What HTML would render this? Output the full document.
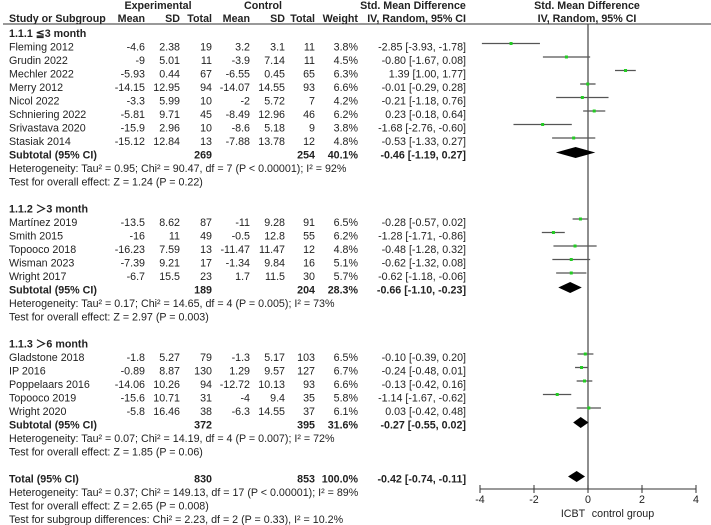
<!DOCTYPE html>
<html><head><meta charset="utf-8"><style>
html,body{margin:0;padding:0;background:#fff;width:711px;height:525px;overflow:hidden}
svg{display:block;font-family:"Liberation Sans",Arial,sans-serif;font-size:10.7px;fill:#222}
.b{font-weight:bold}
</style></head><body>
<svg id="fp" width="711" height="525" viewBox="0 0 711 525" xmlns="http://www.w3.org/2000/svg">
<g>
<text class="b" x="158" y="9" text-anchor="middle">Experimental</text>
<text class="b" x="263" y="9" text-anchor="middle">Control</text>
<text class="b" x="413" y="9" text-anchor="middle">Std. Mean Difference</text>
<text class="b" x="587" y="9" text-anchor="middle">Std. Mean Difference</text>
<text class="b" x="9" y="22">Study or Subgroup</text>
<text class="b" x="145" y="22" text-anchor="end">Mean</text>
<text class="b" x="180" y="22" text-anchor="end">SD</text>
<text class="b" x="212" y="22" text-anchor="end">Total</text>
<text class="b" x="250" y="22" text-anchor="end">Mean</text>
<text class="b" x="285" y="22" text-anchor="end">SD</text>
<text class="b" x="315" y="22" text-anchor="end">Total</text>
<text class="b" x="358" y="22" text-anchor="end">Weight</text>
<text class="b" x="466" y="22" text-anchor="end">IV, Random, 95% CI</text>
<text class="b" x="587" y="22" text-anchor="middle">IV, Random, 95% CI</text>
</g>
<line x1="3" y1="24" x2="711" y2="24" stroke="#333" stroke-width="1"/>
</svg>
<script>
const studies = ["Fleming 2012","Grudin 2022","Mechler 2022","Merry 2012","Nicol 2022","Schniering 2022","Srivastava 2020","Stasiak 2014",
"Martínez 2019","Smith 2015","Topooco 2018","Wisman 2023","Wright 2017",
"Gladstone 2018","IP 2016","Poppelaars 2016","Topooco 2019","Wright 2020"];
const studyRows = [1,2,3,4,5,6,7,8,14,15,16,17,18,24,25,26,27,28];
const expMean = ["-4.6","-9","-5.93","-14.15","-3.3","-5.81","-15.9","-15.12","-13.5","-16","-16.23","-7.39","-6.7","-1.8","-0.89","-14.06","-15.6","-5.8"];
const expSD = ["2.38","5.01","0.44","12.95","5.99","9.71","2.96","12.84","8.62","11","7.59","9.21","15.5","5.27","8.87","10.26","10.71","16.46"];
const expN = [19,11,67,94,10,45,10,13,87,49,13,17,23,79,130,94,31,38];
const ctrlMean = ["3.2","-3.9","-6.55","-14.07","-2","-8.49","-8.6","-7.88","-11","-0.5","-11.47","-1.34","1.7","-1.3","1.29","-12.72","-4","-6.3"];
const ctrlSD = ["3.1","7.14","0.45","14.55","5.72","12.96","5.18","13.78","9.28","12.8","11.47","9.84","11.5","5.17","9.57","10.13","9.4","14.55"];
const ctrlN = [11,11,65,93,7,46,9,12,91,55,12,16,30,103,127,93,35,37];
const weights = ["3.8%","4.5%","6.3%","6.6%","4.2%","6.2%","3.8%","4.8%","6.5%","6.2%","4.8%","5.1%","5.7%","6.5%","6.7%","6.6%","5.8%","6.1%"];
const smd = [-2.85,-0.80,1.39,-0.01,-0.21,0.23,-1.68,-0.53,-0.28,-1.28,-0.48,-0.62,-0.62,-0.10,-0.24,-0.13,-1.14,0.03];
const ciLo = [-3.93,-1.67,1.00,-0.29,-1.18,-0.18,-2.76,-1.33,-0.57,-1.71,-1.28,-1.32,-1.18,-0.39,-0.48,-0.42,-1.67,-0.42];
const ciHi = [-1.78,0.08,1.77,0.28,0.76,0.64,-0.60,0.27,0.02,-0.86,0.32,0.08,-0.06,0.20,0.01,0.16,-0.62,0.48];
const sumLabels = ["Subtotal (95% CI)","Subtotal (95% CI)","Subtotal (95% CI)","Total (95% CI)"];
const sumRows = [9,19,29,33];
const sumExpN = [269,189,372,830];
const sumCtrlN = [254,204,395,853];
const sumWeights = ["40.1%","28.3%","31.6%","100.0%"];
const sumEst = [-0.46,-0.66,-0.27,-0.42];
const sumLo = [-1.19,-1.10,-0.55,-0.74];
const sumHi = [0.27,-0.23,0.02,-0.11];
const groupLabels = ["1.1.1 \u22663 month","1.1.2 \uFF1E3 month","1.1.3 \uFF1E6 month"];
const groupRows = [0,13,23];
const noteLines = ["Heterogeneity: Tau\u00B2 = 0.95; Chi\u00B2 = 90.47, df = 7 (P < 0.00001); I\u00B2 = 92%","Test for overall effect: Z = 1.24 (P = 0.22)",
"Heterogeneity: Tau\u00B2 = 0.17; Chi\u00B2 = 14.65, df = 4 (P = 0.005); I\u00B2 = 73%","Test for overall effect: Z = 2.97 (P = 0.003)",
"Heterogeneity: Tau\u00B2 = 0.07; Chi\u00B2 = 14.19, df = 4 (P = 0.007); I\u00B2 = 72%","Test for overall effect: Z = 1.85 (P = 0.06)",
"Heterogeneity: Tau\u00B2 = 0.37; Chi\u00B2 = 149.13, df = 17 (P < 0.00001); I\u00B2 = 89%","Test for overall effect: Z = 2.65 (P = 0.008)",
"Test for subgroup differences: Chi\u00B2 = 2.23, df = 2 (P = 0.33), I\u00B2 = 10.2%"];
const noteRows = [10,11,20,21,30,31,34,35,36];
const ticks = [-4,-2,0,2,4];

const svg = document.getElementById('fp');
const NS = 'http://www.w3.org/2000/svg';
function rowY(i){ return 33 + 13.5*i; }
function xs(v){ return 588 + 27*v; }
function f2(v){ return v.toFixed(2); }
function ciText(e,l,h){ return f2(e)+" ["+f2(l)+", "+f2(h)+"]"; }
function txt(x,y,s,anchor,bold){
  const t=document.createElementNS(NS,'text');
  t.setAttribute('x',x); t.setAttribute('y',y+3.8);
  if(anchor) t.setAttribute('text-anchor',anchor);
  if(bold) t.setAttribute('class','b');
  t.textContent=s; svg.appendChild(t); return t;
}
function line(x1,y1,x2,y2,c,w){
  const l=document.createElementNS(NS,'line');
  l.setAttribute('x1',x1);l.setAttribute('y1',y1);l.setAttribute('x2',x2);l.setAttribute('y2',y2);
  l.setAttribute('stroke',c);l.setAttribute('stroke-width',w);svg.appendChild(l);return l;
}
const cols=[145,180,212,250,285,315,358,466];

const zl=line(xs(0),24,xs(0),489,'#444',1.2);



groupRows.forEach((r,i)=>{
  const t=txt(9,rowY(r),groupLabels[i],null,true);
  
  
});
studies.forEach((s,i)=>{
  const y=rowY(studyRows[i]);
  const vals=[expMean[i],expSD[i],expN[i],ctrlMean[i],ctrlSD[i],ctrlN[i],weights[i],ciText(smd[i],ciLo[i],ciHi[i])];
  const t=txt(9,y,s);
  
  
  vals.forEach((v,j)=>{
    const c=txt(cols[j],y,String(v),'end');
    
    
  });
  const py=y-3;
  const w=line(xs(ciLo[i]),py,xs(ciHi[i]),py,'#555',1.3);
  
  
  const m=document.createElementNS(NS,'rect');
  m.setAttribute('x',xs(smd[i])-1.5);m.setAttribute('y',py-1.5);m.setAttribute('width',3);m.setAttribute('height',3);
  m.setAttribute('fill','#22cc22');
  
  
  svg.appendChild(m);
});
sumLabels.forEach((s,i)=>{
  const y=rowY(sumRows[i]);
  const t=txt(9,y,s,null,true);
  
  
  [[212,sumExpN[i]],[315,sumCtrlN[i]],[358,sumWeights[i]],[466,ciText(sumEst[i],sumLo[i],sumHi[i])]].forEach(p=>{
    const c=txt(p[0],y,String(p[1]),'end',true);
    
    
  });
  const py=y-2;
  const d=document.createElementNS(NS,'polygon');
  d.setAttribute('points',[xs(sumLo[i])+','+py,xs(sumEst[i])+','+(py-5.5),xs(sumHi[i])+','+py,xs(sumEst[i])+','+(py+5.5)].join(' '));
  d.setAttribute('fill','#000');
  
  
  svg.appendChild(d);
});
noteLines.forEach((s,i)=>{
  const t=txt(9,rowY(noteRows[i]),s);
  
  
});
const ax=line(xs(ticks[0]),489,xs(ticks[ticks.length-1]),489,'#333',1);


ticks.forEach(v=>{
  const tk=line(xs(v),485,xs(v),493,'#333',1);
  
  
  const tl=txt(xs(v),499,String(v),'middle');
  
  
});
const l1=txt(573,513,'ICBT','middle');


const l2=txt(623,513,'control group','middle');


</script>
</body></html>
